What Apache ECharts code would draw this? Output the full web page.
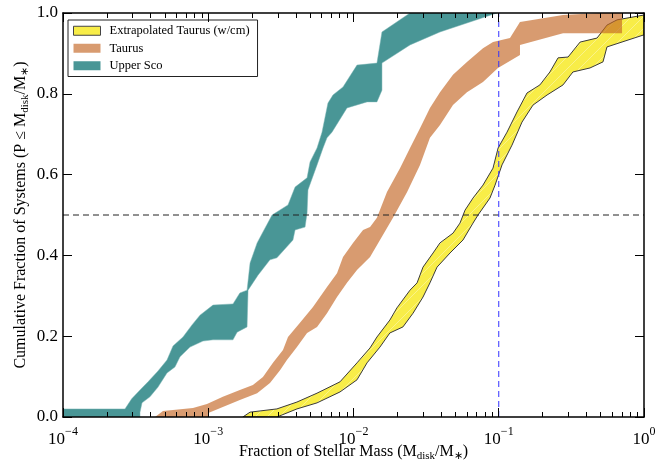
<!DOCTYPE html>
<html><head><meta charset="utf-8">
<script src="https://cdn.jsdelivr.net/npm/echarts@6/dist/echarts.min.js"></script>
<style>html,body{margin:0;padding:0;background:#fff}#c{width:670px;height:464px}</style>
</head><body><div id="c"></div><script>
// ---- Data ----
// Upper Sco band: left (upper CDF) edge bottom->top, right (lower CDF) edge top->bottom
const usLeftX = [1e-4, 1e-4, 2.67e-4, 2.97e-4, 3.39e-4, 3.85e-4, 4.51e-4, 5.20e-4, 5.72e-4, 6.70e-4, 7.73e-4, 8.77e-4, 1.078e-3, 1.48e-3, 1.65e-3, 1.85e-3, 1.94e-3, 2.17e-3, 2.38e-3, 2.75e-3, 3.54e-3, 3.96e-3, 4.79e-3, 5.02e-3, 5.61e-3, 6.07e-3, 6.67e-3, 7.22e-3, 8.47e-3, 1.057e-2, 1.45e-2, 1.57e-2, 2.45e-2];
const usLeftY = [0, 0.02, 0.02, 0.045, 0.067, 0.087, 0.114, 0.141, 0.176, 0.198, 0.228, 0.252, 0.277, 0.280, 0.307, 0.314, 0.381, 0.431, 0.458, 0.500, 0.525, 0.569, 0.592, 0.631, 0.666, 0.705, 0.777, 0.797, 0.817, 0.871, 0.876, 0.953, 1.0];
const usRightX = [9.72e-2, 3.94e-2, 2.45e-2, 1.57e-2, 1.57e-2, 1.45e-2, 1.239e-2, 9.02e-3, 7.11e-3, 6.57e-3, 6.17e-3, 5.61e-3, 4.86e-3, 4.79e-3, 4.64e-3, 3.96e-3, 3.83e-3, 2.97e-3, 2.66e-3, 2.20e-3, 1.88e-3, 1.85e-3, 1.58e-3, 1.48e-3, 1.078e-3, 9.20e-4, 7.49e-4, 6.39e-4, 5.90e-4, 5.20e-4, 4.51e-4, 3.97e-4, 3.50e-4, 3.39e-4, 3.39e-4];
const usRightY = [1.0, 0.953, 0.921, 0.876, 0.809, 0.780, 0.780, 0.765, 0.705, 0.691, 0.666, 0.624, 0.562, 0.505, 0.470, 0.463, 0.438, 0.394, 0.389, 0.351, 0.314, 0.223, 0.210, 0.191, 0.191, 0.188, 0.173, 0.149, 0.124, 0.109, 0.074, 0.050, 0.035, 0.012, 0];

// Taurus band
const tauLeftX = [4.30e-4, 4.88e-4, 7.85e-4, 9.80e-4, 1.26e-3, 1.65e-3, 2.03e-3, 2.38e-3, 2.79e-3, 3.27e-3, 3.54e-3, 4.28e-3, 5.26e-3, 6.57e-3, 7.70e-3, 8.47e-3, 9.92e-3, 1.163e-2, 1.30e-2, 1.45e-2, 1.70e-2, 2.09e-2, 2.45e-2, 2.87e-2, 3.36e-2, 3.94e-2, 4.84e-2, 6.04e-2, 7.79e-2, 9.13e-2, 1.195e-1, 1.40e-1, 2.77e-1, 4.98e-1];
const tauLeftY = [0, 0.015, 0.022, 0.032, 0.050, 0.067, 0.079, 0.099, 0.134, 0.166, 0.198, 0.233, 0.272, 0.322, 0.356, 0.396, 0.431, 0.463, 0.470, 0.493, 0.557, 0.616, 0.666, 0.715, 0.765, 0.804, 0.847, 0.879, 0.913, 0.928, 0.938, 0.978, 0.995, 1.0];
const tauRightX = [7.06e-1, 7.06e-1, 2.77e-1, 1.40e-1, 1.40e-1, 9.88e-2, 7.79e-2, 6.04e-2, 4.84e-2, 3.94e-2, 3.36e-2, 2.87e-2, 2.34e-2, 1.87e-2, 1.30e-2, 1.057e-2, 9.02e-3, 7.70e-3, 6.57e-3, 5.61e-3, 4.79e-3, 4.08e-3, 3.48e-3, 3.12e-3, 2.66e-3, 2.17e-3, 1.65e-3, 1.26e-3, 1.0e-3, 1.0e-3];
const tauRightY = [1.0, 0.950, 0.950, 0.921, 0.896, 0.864, 0.829, 0.804, 0.772, 0.723, 0.691, 0.624, 0.557, 0.493, 0.396, 0.364, 0.332, 0.297, 0.257, 0.223, 0.208, 0.173, 0.141, 0.116, 0.084, 0.059, 0.042, 0.025, 0.010, 0];

// Extrapolated Taurus (w/cm) band
const extLeftX = [1.73e-3, 1.94e-3, 2.97e-3, 4.08e-3, 5.61e-3, 8.07e-3, 1.057e-2, 1.30e-2, 1.45e-2, 1.78e-2, 1.99e-2, 2.45e-2, 2.74e-2, 3.01e-2, 3.53e-2, 3.94e-2, 4.84e-2, 5.41e-2, 5.86e-2, 6.65e-2, 7.79e-2, 9.13e-2, 9.9e-2, 1.14e-1, 1.335e-1, 1.565e-1, 1.92e-1, 2.25e-1, 2.56e-1, 3.00e-1, 3.63e-1, 4.75e-1, 5.56e-1, 6.52e-1, 1.0];
const extLeftY = [0, 0.012, 0.020, 0.037, 0.059, 0.087, 0.134, 0.171, 0.198, 0.240, 0.270, 0.314, 0.332, 0.371, 0.406, 0.431, 0.455, 0.480, 0.512, 0.542, 0.574, 0.616, 0.666, 0.705, 0.755, 0.802, 0.822, 0.854, 0.889, 0.891, 0.928, 0.938, 0.970, 0.983, 0.995];
const extRightX = [1.0, 5.56e-1, 5.22e-1, 4.25e-1, 3.24e-1, 2.77e-1, 2.15e-1, 1.72e-1, 1.446e-1, 1.234e-1, 1.053e-1, 9.43e-2, 8.7e-2, 7.2e-2, 6.65e-2, 5.67e-2, 4.62e-2, 3.76e-2, 3.36e-2, 3.01e-2, 2.57e-2, 2.19e-2, 1.78e-2, 1.52e-2, 1.239e-2, 1.057e-2, 8.07e-3, 5.61e-3, 4.08e-3, 2.97e-3];
const extRightY = [0.946, 0.916, 0.879, 0.864, 0.854, 0.822, 0.797, 0.772, 0.730, 0.673, 0.624, 0.574, 0.542, 0.500, 0.480, 0.438, 0.406, 0.371, 0.332, 0.297, 0.257, 0.223, 0.208, 0.173, 0.134, 0.092, 0.062, 0.035, 0.020, 0];

// Reference lines
const hLineX = [1e-4, 1];
const hLineY = [0.5, 0.5];
const vLineX = [0.1, 0.1];
const vLineY = [0, 1];

// Axis ticks
const xMajorTicks = [1e-4, 1e-3, 1e-2, 1e-1, 1];
const xMinorTicks = [];
for (let d = -4; d < 0; d++) for (let m = 2; m <= 9; m++) xMinorTicks.push(m * Math.pow(10, d));

const seriesNames = ['Extrapolated Taurus (w/cm)', 'Taurus', 'Upper Sco'];

// ---- Chart ----
const SERIF = 'Liberation Serif';
const chart = echarts.init(document.getElementById('c'), null, {renderer: 'canvas'});

function polygon(lx, ly, rx, ry) {
  const pts = [];
  for (let i = 0; i < lx.length; i++) pts.push([lx[i], ly[i]]);
  for (let i = 0; i < rx.length; i++) pts.push([rx[i], ry[i]]);
  return pts;
}
function pairs(xs, ys) { return xs.map((x, i) => [x, ys[i]]); }

// hatch pattern for extrapolated band
const pc = document.createElement('canvas');
pc.width = 12; pc.height = 12;
const pctx = pc.getContext('2d');
pctx.fillStyle = '#f8ed48'; pctx.fillRect(0, 0, 12, 12);
pctx.strokeStyle = 'rgba(255,255,255,0.45)'; pctx.lineWidth = 0.8;
pctx.beginPath();
pctx.moveTo(0, 12); pctx.lineTo(12, 0);
pctx.moveTo(-2, 2); pctx.lineTo(2, -2);
pctx.moveTo(10, 14); pctx.lineTo(14, 10);
pctx.stroke();

function band(name, pts, style, color, z) {
  return {
    type: 'custom', name: name, coordinateSystem: 'cartesian2d',
    xAxisIndex: 0, yAxisIndex: 0, z: z, clip: true, silent: true,
    encode: {x: 0, y: 1},
    itemStyle: {color: color},
    data: pts,
    renderItem: function (params, api) {
      if (params.dataIndex !== 0) return null;
      const points = pts.map(p => api.coord(p));
      return {type: 'polygon', shape: {points: points}, style: style};
    }
  };
}

const extPts = polygon(extLeftX, extLeftY, extRightX, extRightY);
const tauPts = polygon(tauLeftX, tauLeftY, tauRightX, tauRightY);
const usPts = polygon(usLeftX, usLeftY, usRightX, usRightY);

const axLine = {show: true, onZero: false, lineStyle: {color: '#000', width: 1.5}};
const noLabel = {show: false};

const option = {
  animation: false,
  backgroundColor: '#fff',
  grid: {left: 63, right: 26, top: 13, bottom: 47, containLabel: false, outerBoundsMode: 'none'},
  legend: {
    orient: 'vertical', left: 68, top: 20,
    padding: [4, 8, 4, 5], itemWidth: 27, itemHeight: 9, itemGap: 4,
    backgroundColor: '#fff', borderColor: '#222', borderWidth: 1, borderRadius: 0,
    icon: 'rect',
    textStyle: {fontFamily: SERIF, fontSize: 12.5, color: '#000', padding: [0, 0, 0, 4], lineHeight: 13.5},
    data: [
      {name: seriesNames[0], itemStyle: {color: '#f8ed48', borderColor: '#444', borderWidth: 1}},
      {name: seriesNames[1], itemStyle: {color: '#d89b70'}},
      {name: seriesNames[2], itemStyle: {color: '#499696'}}
    ]
  },
  xAxis: [
    {
      type: 'log', logBase: 10, min: 1e-4, max: 1, position: 'bottom', z: 10,
      axisLine: axLine,
      axisTick: {show: true, inside: true, length: 9, lineStyle: {color: '#000', width: 1}, customValues: xMajorTicks},
      minorTick: {show: false}, splitLine: {show: false},
      axisLabel: {
        customValues: xMajorTicks, margin: 9, color: '#000',
        formatter: function (v) {
          const e = Math.round(Math.log10(v));
          return '{b|10}{s|' + (e < 0 ? '\u2212' + (-e) : e) + '}';
        },
        rich: {
          b: {fontFamily: SERIF, fontSize: 17, color: '#000', lineHeight: 22, verticalAlign: 'bottom'},
          s: {fontFamily: SERIF, fontSize: 12, color: '#000', lineHeight: 12, verticalAlign: 'top'}
        }
      },
      name: '{n|Fraction of Stellar Mass (M}{s|disk}{n|/M}{s|\u2217}{n|)}',
      nameLocation: 'middle', nameGap: 25, nameMoveOverlap: false,
      nameTextStyle: {
        rich: {
          n: {fontFamily: SERIF, fontSize: 16, color: '#000', lineHeight: 20, verticalAlign: 'middle'},
          s: {fontFamily: SERIF, fontSize: 11, color: '#000', lineHeight: 11, verticalAlign: 'bottom'}
        }
      }
    },
    {
      type: 'log', logBase: 10, min: 1e-4, max: 1, position: 'top', z: 10,
      axisLine: axLine,
      axisTick: {show: true, inside: true, length: 9, lineStyle: {color: '#000', width: 1}, customValues: xMajorTicks},
      axisLabel: noLabel, splitLine: {show: false}, minorTick: {show: false}
    }
  ],
  yAxis: [
    {
      type: 'value', min: 0, max: 1, interval: 0.2, position: 'left', z: 10,
      axisLine: axLine,
      axisTick: {show: true, inside: true, length: 9, lineStyle: {color: '#000', width: 1}},
      splitLine: {show: false},
      axisLabel: {margin: 5, color: '#000', fontFamily: SERIF, fontSize: 17, formatter: v => v.toFixed(1)},
      name: '{n|Cumulative Fraction of Systems (P \u2264 M}{s|disk}{n|/M}{s|\u2217}{n|)}',
      nameLocation: 'middle', nameGap: 32, nameRotate: 90, nameMoveOverlap: false,
      nameTextStyle: {
        rich: {
          n: {fontFamily: SERIF, fontSize: 16, color: '#000', lineHeight: 20, verticalAlign: 'middle'},
          s: {fontFamily: SERIF, fontSize: 11, color: '#000', lineHeight: 11, verticalAlign: 'bottom'}
        }
      }
    },
    {
      type: 'value', min: 0, max: 1, interval: 0.2, position: 'right', z: 10,
      axisLine: axLine,
      axisTick: {show: true, inside: true, length: 9, lineStyle: {color: '#000', width: 1}},
      splitLine: {show: false}, axisLabel: noLabel
    }
  ],
  series: [
    band(seriesNames[2], usPts, {fill: '#499696', stroke: 'rgba(120,180,180,0.8)', lineWidth: 0.6}, '#499696', 2),
    band(seriesNames[0], extPts, {fill: {image: pc, repeat: 'repeat'}, stroke: '#3a3a3a', lineWidth: 1}, '#f8ed48', 2),
    band(seriesNames[1], tauPts, {fill: 'rgba(195,101,35,0.65)', lineWidth: 0}, '#d89b70', 3),
    {
      type: 'line', xAxisIndex: 0, yAxisIndex: 0, data: pairs(hLineX, hLineY), symbol: 'none', silent: true, z: 4,
      lineStyle: {color: '#222', width: 1, type: [6, 4]}
    },
    {
      type: 'line', xAxisIndex: 0, yAxisIndex: 0, data: pairs(vLineX, vLineY), symbol: 'none', silent: true, z: 4,
      lineStyle: {color: '#3333ff', width: 1, type: [6, 4]}
    },
    {
      // minor log ticks on bottom and top frame (inward), positioned via the axis scale
      type: 'custom', name: 'minorTicks', coordinateSystem: 'cartesian2d', xAxisIndex: 0, yAxisIndex: 0,
      silent: true, z: 10, clip: false, encode: {x: 0, y: 1},
      data: xMinorTicks.map(v => [v, 0]),
      renderItem: function (params, api) {
        const v = api.value(0);
        const b = api.coord([v, 0]);
        const t = api.coord([v, 1]);
        const x = Math.round(b[0]) + 0.5;
        return {
          type: 'group', children: [
            {type: 'line', shape: {x1: x, y1: b[1], x2: x, y2: b[1] - 5}, style: {stroke: '#000', lineWidth: 1}},
            {type: 'line', shape: {x1: x, y1: t[1], x2: x, y2: t[1] + 5}, style: {stroke: '#000', lineWidth: 1}}
          ]
        };
      }
    }
  ]
};
chart.setOption(option);
</script></body></html>
